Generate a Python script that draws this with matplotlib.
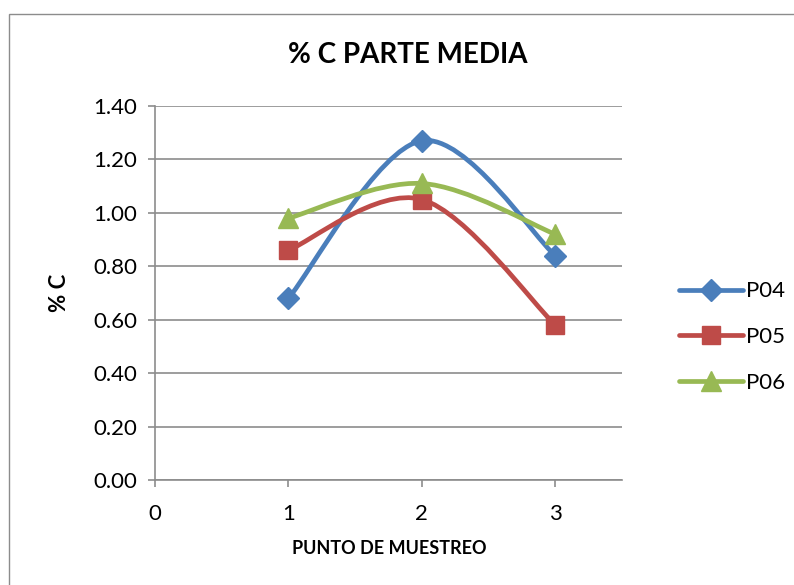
import matplotlib
matplotlib.use("Agg")
import matplotlib.pyplot as plt
import numpy as np
from matplotlib.path import Path
from matplotlib.patches import PathPatch, Rectangle
from matplotlib.lines import Line2D

plt.rcParams['font.family'] = ['Lato', 'DejaVu Sans']

# datos
puntos = [1, 2, 3]
p04 = [0.68, 1.27, 0.84]
p05 = [0.86, 1.05, 0.58]
p06 = [0.98, 1.11, 0.92]
series = [("P04", p04, "#4a7ebb", "D", 11),
          ("P05", p05, "#be4b48", "s", 13),
          ("P06", p06, "#98b954", "^", 14)]


def suave(ax, x, y, color):#curva suavizada tipo Excel (Bezier)
    pts = np.column_stack([x, y]).astype(float)
    ext = np.vstack([pts[0], pts, pts[-1]])
    verts = [pts[0]]
    codes = [Path.MOVETO]
    for i in range(len(pts) - 1):
        p0, p1, p2, p3 = ext[i], ext[i + 1], ext[i + 2], ext[i + 3]
        c1 = p1 + (p2 - p0) / 6.0
        c2 = p2 - (p3 - p1) / 6.0
        verts += [c1, c2, p2]
        codes += [Path.CURVE4] * 3
    ax.add_patch(PathPatch(Path(verts, codes), facecolor='none', edgecolor=color,
                           lw=3.4, capstyle='round', joinstyle='round', zorder=3))


fig = plt.figure(figsize=(7.94, 5.85), dpi=100)
fig.patches.append(Rectangle((9 / 794, -0.1), 1.2, 1 - 14 / 585 + 0.1, transform=fig.transFigure,
                             fill=False, edgecolor='#8c8c8c', lw=1.0))
ax = fig.add_axes([155 / 794, 105 / 585, 467 / 794, 374 / 585])

handles = []
for nombre, vals, col, mk, ms in series:
    suave(ax, puntos, vals, col)
    ax.plot(puntos, vals, linestyle='none', marker=mk, ms=ms, color=col, zorder=4)
    handles.append(Line2D([], [], color=col, lw=3.4, marker=mk, ms=ms, solid_capstyle='round'))

ax.set_xlim(0, 3.5)
ax.set_ylim(0, 1.4)
ax.set_xticks([0, 1, 2, 3])
ax.set_yticks(np.arange(0, 1.41, 0.2))
ax.set_yticklabels(["%.2f" % v for v in np.arange(0, 1.41, 0.2)])
ax.yaxis.grid(True, color='#8c8c8c', lw=1.2)
ax.set_axisbelow(True)
for s in ['top', 'right']:
    ax.spines[s].set_visible(False)
for s in ['left', 'bottom']:
    ax.spines[s].set_color('#8c8c8c')
    ax.spines[s].set_linewidth(1.2)
ax.tick_params(colors='#8c8c8c', labelcolor='black', labelsize=16, length=5, width=1.2)
ax.tick_params(axis='y', pad=8)
ax.tick_params(axis='x', pad=12)

fig.text(408 / 794, 1 - 55 / 585, "% C PARTE MEDIA", ha='center', va='center',
         fontsize=20, fontweight='bold')
fig.text(389 / 794, 1 - 549 / 585, "PUNTO DE MUESTREO", ha='center', va='center',
         fontsize=13, fontweight='bold')
fig.text(60 / 794, 1 - 293 / 585, "% C", ha='center', va='center', rotation=90,
         fontsize=16, fontweight='bold')

fig.legend(handles, ["P04", "P05", "P06"], loc='center left', bbox_to_anchor=(679 / 794, 1 - 337 / 585),
           frameon=False, fontsize=16, handlelength=2.9, labelspacing=1.15, handletextpad=0.12,
           borderpad=0, borderaxespad=0)

fig.savefig("out.png", dpi=100)
